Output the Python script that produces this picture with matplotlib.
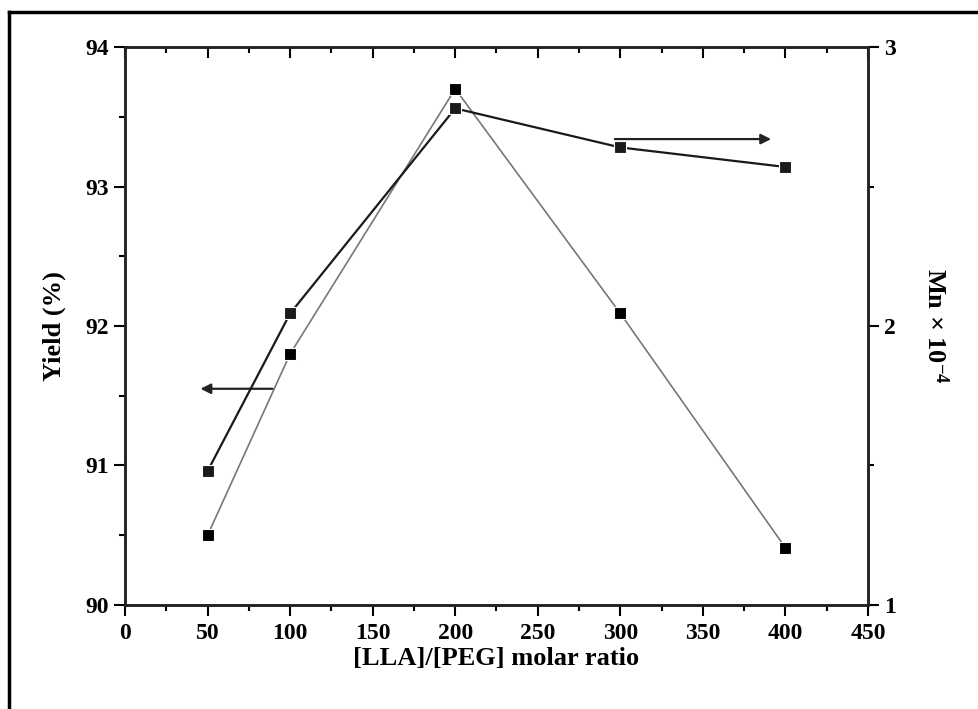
import matplotlib.pyplot as plt
from matplotlib.lines import Line2D
from matplotlib.ticker import MultipleLocator

ratio = [50, 100, 200, 300, 400]
yield_pct = [90.50, 91.80, 93.70, 92.09, 90.41]
mn = [1.48, 2.045, 2.78, 2.64, 2.57]

plt.rcParams['font.family'] = ['Liberation Serif', 'DejaVu Serif']
plt.rcParams['font.weight'] = 'bold'
plt.rcParams['mathtext.fontset'] = 'custom'
plt.rcParams['mathtext.rm'] = 'Liberation Serif:bold'
plt.rcParams['mathtext.it'] = 'Liberation Serif:bold'

fig = plt.figure(figsize=(9.79, 7.09), dpi=100)
ax = fig.add_axes([0.1277, 0.1467, 0.7589, 0.787])
ax2 = ax.twinx()

ax.plot(ratio, yield_pct, color='#777777', lw=1.2, marker='s', ms=8,
        mfc='black', mec='white', mew=0.8, zorder=3)
ax2.plot(ratio, mn, color='#1a1a1a', lw=1.6, marker='s', ms=8,
         mfc='#1a1a1a', mec='white', mew=0.8, zorder=3)

ax.set_xlim(0, 450)
ax.set_ylim(90, 94)
ax2.set_ylim(1, 3)

ax.xaxis.set_major_locator(MultipleLocator(50))
ax.xaxis.set_minor_locator(MultipleLocator(25))
ax.yaxis.set_major_locator(MultipleLocator(1))
ax.yaxis.set_minor_locator(MultipleLocator(0.5))
ax2.yaxis.set_major_locator(MultipleLocator(1))
ax2.yaxis.set_minor_locator(MultipleLocator(0.5))

ax.tick_params(axis='x', which='both', direction='out', top=True, labelsize=17, width=1.5, pad=5)
ax.tick_params(axis='x', which='major', length=8)
ax.tick_params(axis='x', which='minor', length=4)
ax.tick_params(axis='y', which='both', direction='out', labelsize=17, width=1.5)
ax.tick_params(axis='y', which='major', length=8)
ax.tick_params(axis='y', which='minor', length=4)
ax2.tick_params(axis='y', which='both', direction='out', labelsize=17, width=1.5)
ax2.tick_params(axis='y', which='major', length=8)
ax2.tick_params(axis='y', which='minor', length=4)
# top ticks point inward
for t in ax.xaxis.get_major_ticks() + ax.xaxis.get_minor_ticks():
    t.tick2line.set_marker(3)

for a in (ax, ax2):
    for s in a.spines.values():
        s.set_linewidth(1.8)
        s.set_color('#222222')

ax.set_xlabel('[LLA]/[PEG] molar ratio', fontsize=19, fontweight='bold', labelpad=2)
ax.set_ylabel('Yield (%)', fontsize=19, fontweight='bold', labelpad=14)
ax2.set_ylabel(r'Mn $\times$ 10$^{-4}$', fontsize=19, fontweight='bold',
               rotation=-90, labelpad=38)

ax.annotate('', xy=(44, 91.55), xytext=(91, 91.55),
            arrowprops=dict(arrowstyle='-|>', color='#222222', lw=1.6, mutation_scale=15))
ax.annotate('', xy=(393, 93.34), xytext=(295, 93.34),
            arrowprops=dict(arrowstyle='-|>', color='#222222', lw=1.6, mutation_scale=15))

# outer frame (top and left edges)
fig.add_artist(Line2D([0.0092, 0.0092], [0.0, 0.983], transform=fig.transFigure, color='black', lw=2.5))
fig.add_artist(Line2D([0.0092, 1.0], [0.983, 0.983], transform=fig.transFigure, color='black', lw=2.5))

fig.savefig('out.png', dpi=100)
